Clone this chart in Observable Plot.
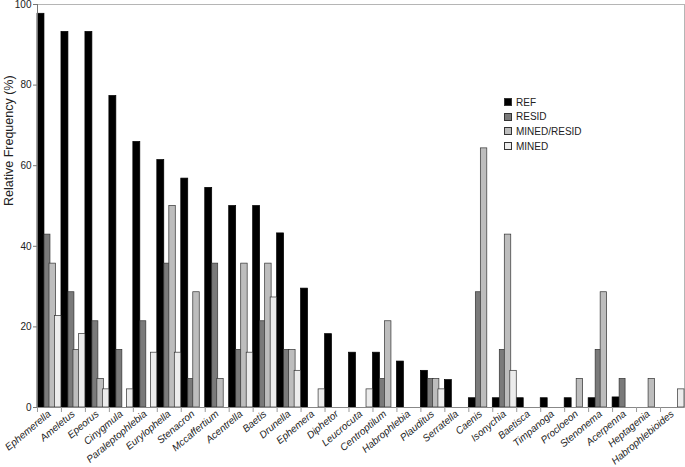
<!DOCTYPE html>
<html><head><meta charset="utf-8">
<script src="https://cdn.jsdelivr.net/npm/d3@7"></script>
<script src="https://cdn.jsdelivr.net/npm/@observablehq/plot@0.6"></script>
<style>
body{margin:0;background:#fff;}
#wrap{position:relative;width:685px;height:467px;font-family:"Liberation Sans",Arial,sans-serif;}
#legend{position:absolute;left:504px;top:95px;font-size:10px;color:#222;}
#legend .row{display:flex;align-items:center;height:14.6px}
#legend .sw{width:8px;height:8px;border:1px solid #333;margin-right:4px;box-sizing:border-box}
</style></head><body><div id="wrap"><div id="legend"></div></div>
<script>
const genera = ["Ephemerella","Ameletus","Epeorus","Cinygmula","Paraleptophlebia","Eurylophella","Stenacron","Mccaffertium","Acentrella","Baetis","Drunella","Ephemera","Diphetor","Leucrocuta","Centroptilum","Habrophlebia","Plauditus","Serratella","Caenis","Isonychia","Baetisca","Timpanoga","Procloeon","Stenonema","Acerpenna","Heptagenia","Habrophlebioides"];
const ref        = [97.7,93.2,93.2,77.3,65.9,61.4,56.8,54.5,50.0,50.0,43.2,29.5,18.2,13.6,13.6,11.4,9.1,6.8,2.3,2.3,2.3,2.3,2.3,2.3,2.5,0,0];
const resid      = [42.9,28.6,21.4,14.3,21.4,35.7,7.1,35.7,14.3,21.4,14.3,0,0,0,7.1,0,7.1,0,28.6,14.3,0,0,0,14.3,7.1,0,0];
const minedResid = [35.7,14.3,7.1,0,0,50.0,28.6,7.1,35.7,35.7,14.3,0,0,0,21.4,0,7.1,0,64.3,42.9,0,0,7.1,28.6,0,7.1,0];
const mined      = [22.7,18.2,4.5,4.5,13.6,13.6,0,0,13.6,27.3,9.1,4.5,0,4.5,0,0,4.5,0,0,9.1,0,0,0,0,0,0,4.5];
const series = ["REF","RESID","MINED/RESID","MINED"];
const colors = ["#000000","#7a7a7a","#bdbdbd","#ececec"];
const yTicks = [0,20,40,60,80,100];
const yLabel = "Relative Frequency (%)";

const columns = [ref, resid, minedResid, mined];
const data = [];
series.forEach((s, si) => genera.forEach((g, gi) => {
  const v = columns[si][gi];
  if (v > 0) data.push({genus: g, series: s, value: v});
}));

const insets = [[0, 17], [7, 11], [12, 5.5], [17.5, 0]];
const barMarks = series.map((s, si) => Plot.barY(data.filter(d => d.series === s), {
  x: "genus", y: "value", fill: colors[si], stroke: si === 0 ? "#000" : "#333", strokeWidth: 0.7,
  insetLeft: insets[si][0], insetRight: insets[si][1]
}));

const chart = Plot.plot({
  width: 685, height: 467,
  marginLeft: 37, marginRight: 1, marginTop: 4, marginBottom: 60,
  style: {fontFamily: '"Liberation Sans", Arial, sans-serif', background: "#fff", color: "#222"},
  x: {type: "band", domain: genera, padding: 0, round: false, axis: null},
  y: {domain: [0, 100], axis: null},
  marks: [
    Plot.frame({stroke: "#b5b5b5"}),
    ...barMarks,
    Plot.ruleY([0], {stroke: "#888"}),
    Plot.frame({anchor: "left", stroke: "#777"}),
    Plot.axisY({ticks: yTicks, tickSize: 4, tickPadding: 2, fontSize: 10, label: null, stroke: "#777"}),
    Plot.axisX({tickSize: 5, tickFormat: () => "", dx: -12, label: null, stroke: "#999"}),
    Plot.axisX({tickSize: 0, tickPadding: 5, tickRotate: -40, fontSize: 10, fontStyle: "italic", label: null}),
    Plot.text([yLabel], {frameAnchor: "left", rotate: -90, dx: -29, fontSize: 12.5, fill: "#222"})
  ]
});
document.getElementById("wrap").prepend(chart);

const legend = document.getElementById("legend");
series.forEach((s, si) => {
  const row = document.createElement("div");
  row.className = "row";
  const sw = document.createElement("span");
  sw.className = "sw";
  sw.style.background = colors[si];
  const t = document.createElement("span");
  t.textContent = s;
  row.append(sw, t);
  legend.append(row);
});
</script></body></html>
